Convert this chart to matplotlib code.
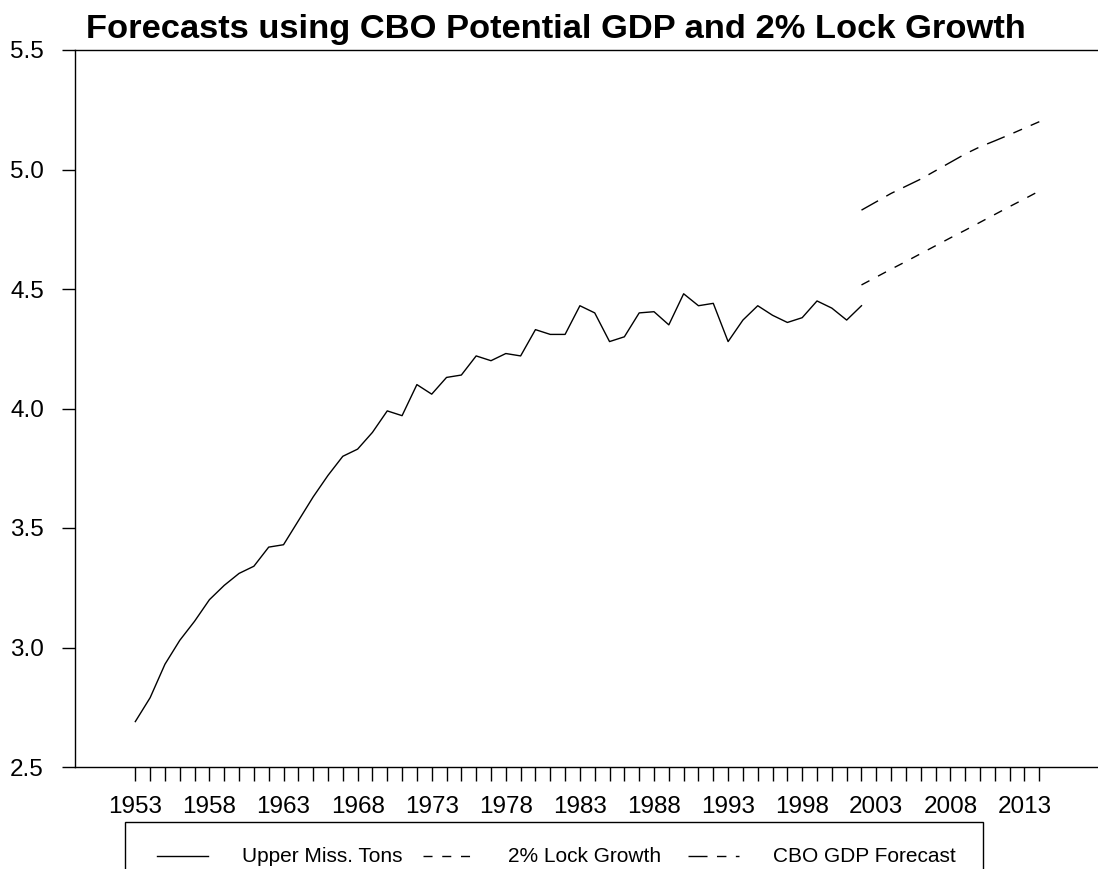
import matplotlib
matplotlib.use("Agg")
import matplotlib.pyplot as plt
from matplotlib.lines import Line2D
from matplotlib.patches import Rectangle

plt.rcParams['font.family'] = ['Liberation Sans', 'DejaVu Sans']

# ---- data ----
hist_years = list(range(1953, 2003))
upper_miss_tons = [2.69, 2.79, 2.93, 3.03, 3.11, 3.20, 3.26, 3.31, 3.34, 3.42,
                   3.43, 3.53, 3.63, 3.72, 3.80, 3.83, 3.90, 3.99, 3.97, 4.10,
                   4.06, 4.13, 4.14, 4.22, 4.20, 4.23, 4.22, 4.33, 4.31, 4.31,
                   4.43, 4.40, 4.28, 4.30, 4.40, 4.405, 4.35, 4.48, 4.43, 4.44,
                   4.28, 4.37, 4.43, 4.39, 4.36, 4.38, 4.45, 4.42, 4.37, 4.43]
fc_years = list(range(2002, 2015))
lock_growth = [4.517, 4.550, 4.583, 4.615, 4.648, 4.681, 4.714, 4.746, 4.779,
               4.812, 4.845, 4.877, 4.910]
cbo_forecast = [4.83, 4.865, 4.90, 4.93, 4.96, 4.995, 5.03, 5.065, 5.095,
                5.12, 5.146, 5.173, 5.20]
tick_years = list(range(1953, 2015))
label_years = list(range(1953, 2014, 5))
y_ticks = [2.5, 3.0, 3.5, 4.0, 4.5, 5.0, 5.5]
series_names = ["Upper Miss. Tons", "2% Lock Growth", "CBO GDP Forecast"]
title = "Forecasts using CBO Potential GDP and 2% Lock Growth"

W, H = 1098, 869
fig = plt.figure(figsize=(W / 100, H / 100), dpi=100)
ax = fig.add_axes([75 / W, 1 - 767 / H, 1 - 75 / W, (767 - 50) / H])

styles = [dict(ls='-'), dict(dashes=(6.5, 7)), dict(dashes=(13.7, 6.8, 6.8, 6.8))]

ax.plot(hist_years, upper_miss_tons, color='black', lw=1.0, **styles[0])
ax.plot(fc_years, lock_growth, color='black', lw=1.0, **styles[1])
ax.plot(fc_years, cbo_forecast, color='black', lw=1.0, **styles[2])

ax.set_xlim(1948.93, 2017.96)
ax.set_ylim(2.5, 5.5)
ax.set_xticks(tick_years)
ax.set_xticklabels([str(y) if y in label_years else '' for y in tick_years])
ax.set_yticks(y_ticks)
ax.set_yticklabels([f"{v:.1f}" for v in y_ticks])
ax.tick_params(axis='x', direction='out', length=10, width=1.0, pad=11,
               labelsize=17.5, colors='black')
ax.tick_params(axis='y', direction='out', length=9.4, width=1.0, pad=13,
               labelsize=17.5, colors='black')
for s in ['left', 'top', 'bottom']:
    ax.spines[s].set_linewidth(1.0)
    ax.spines[s].set_color('black')
ax.spines['right'].set_visible(False)

fig.text(556 / W, 1 - 38 / H, title, ha='center', va='baseline',
         fontsize=24.8, fontweight='bold')

# ---- legend (horizontal, R-style equal columns) ----
def fx(px):
    return px / W

def fy(py):
    return 1 - py / H

box_left, box_top, box_right, box_bottom = 125, 822, 983, 895
fig.add_artist(Rectangle((fx(box_left), fy(box_bottom)),
                         fx(box_right - box_left), (box_bottom - box_top) / H,
                         transform=fig.transFigure, facecolor='white',
                         edgecolor='black', lw=1.0, clip_on=False))
col_step = 265.5
handle_x0, handle_len, text_gap = 157, 51, 34
row_y = 856
for i, name in enumerate(series_names):
    x0 = handle_x0 + i * col_step
    fig.add_artist(Line2D([fx(x0), fx(x0 + handle_len)], [fy(row_y), fy(row_y)],
                          transform=fig.transFigure, color='black', lw=1.0,
                          **styles[i]))
    fig.text(fx(x0 + handle_len + text_gap), fy(row_y), name,
             ha='left', va='center', fontsize=15)

fig.savefig("out.png", dpi=100)
